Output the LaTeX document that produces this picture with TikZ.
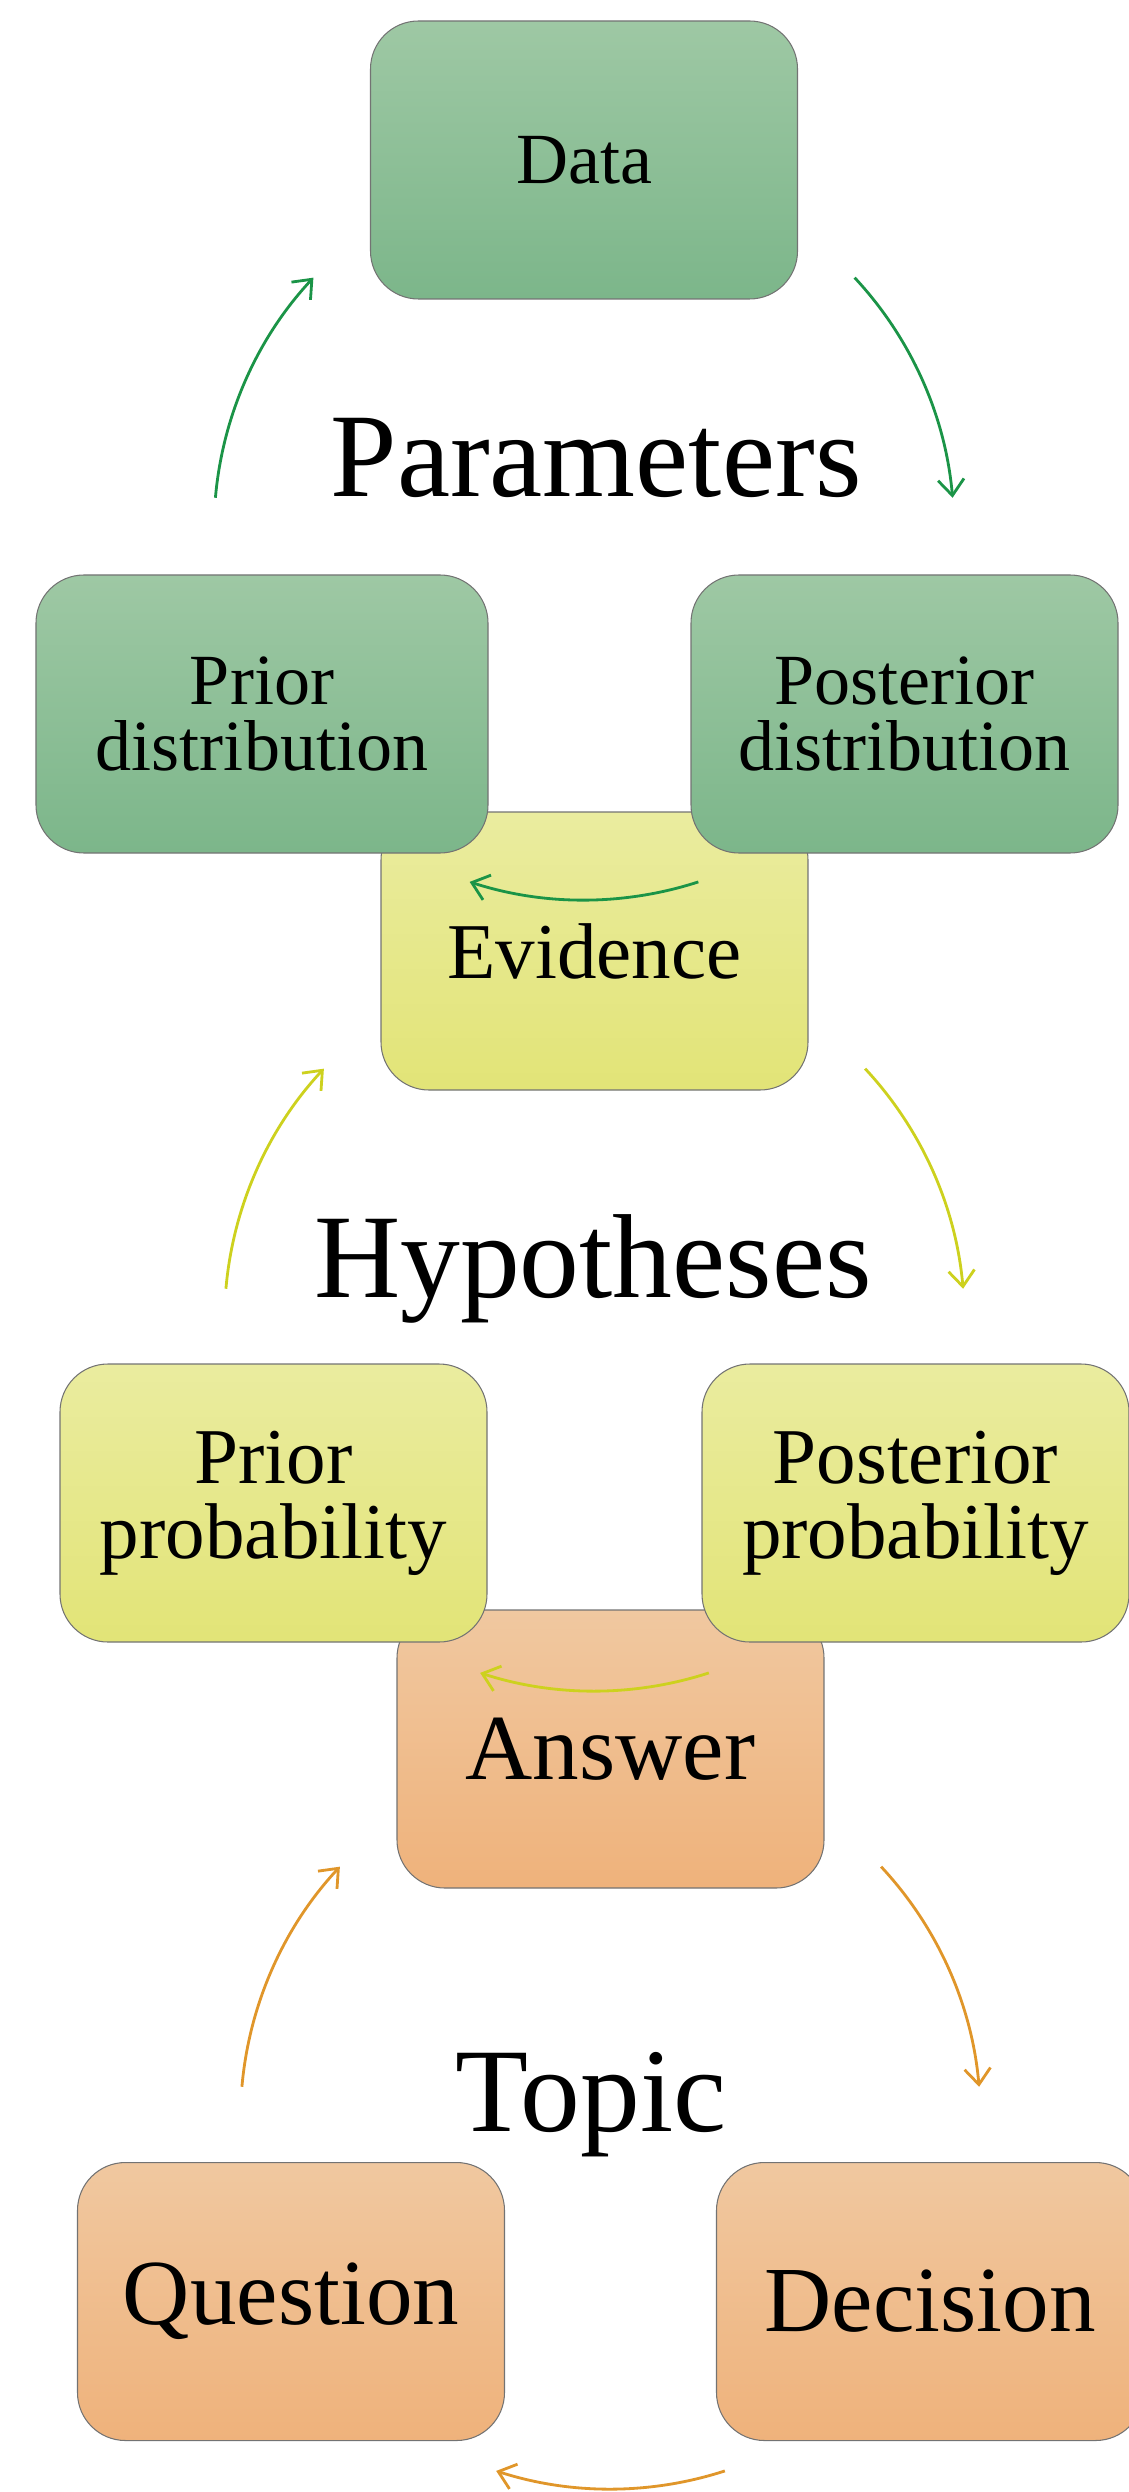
\documentclass[tikz,border=0pt]{standalone}
\usepackage{fontspec}
\setmainfont{Liberation Serif}
\usetikzlibrary{positioning,arrows.meta}

\definecolor{grntop}{HTML}{9EC8A4}
\definecolor{grnbot}{HTML}{7CB68A}
\definecolor{yeltop}{HTML}{EAEC9F}
\definecolor{yelbot}{HTML}{E2E477}
\definecolor{orgtop}{HTML}{F0C8A0}
\definecolor{orgbot}{HTML}{EFB27B}
\definecolor{grnline}{HTML}{1B9447}
\definecolor{yelline}{HTML}{CDD11E}
\definecolor{orgline}{HTML}{E0962A}

\tikzset{
  box/.style={draw=black!55,line width=0.3pt,rounded corners=0.48cm,
    minimum width=4.27cm,minimum height=2.78cm,align=center,inner sep=0pt},
  gbox/.style={box,top color=grntop,bottom color=grnbot,font=\fontsize{20.5}{18.8}\selectfont},
  ybox/.style={box,top color=yeltop,bottom color=yelbot,font=\fontsize{22.5}{21.3}\selectfont},
  obox/.style={box,top color=orgtop,bottom color=orgbot,font=\fontsize{26.5}{28}\selectfont},
  title/.style={anchor=base,font=\fontsize{34}{40}\selectfont},
  garc/.style={->,draw=grnline,line width=0.8pt},
  yarc/.style={->,draw=yelline,line width=0.8pt},
  oarc/.style={->,draw=orgline,line width=0.8pt}
}

\begin{document}
\begin{tikzpicture}[on grid,>={Straight Barb[length=1.6mm,width=2.6mm]}]
  \useasboundingbox (0,0) rectangle (11.28,-24.92);

  % lowest cycle first, the upper boxes lie over it
  \node[obox] (answer) at (6.105,-17.49) {Answer};
  \node[obox] (question) [below left=5.525cm and 3.195cm of answer] {Question};
  \node[obox] (decision) [below right=5.525cm and 3.195cm of answer] {Decision};
  \coordinate[below=3.7cm of answer] (c3);
  \node[title] (topic) at (5.91,-21.31) {Topic};
  \path (c3) ++(175:3.7) coordinate (o1) (c3) ++(43:3.7) coordinate (o2)
        (c3) ++(-72:3.7) coordinate (o3);
  \draw[oarc] (o1) arc[start angle=175,end angle=137,radius=3.7];
  \draw[oarc] (o2) arc[start angle=43,end angle=5,radius=3.7];
  \draw[oarc] (o3) arc[start angle=-72,end angle=-108,radius=3.7];

  \node[ybox] (evid) at (5.945,-9.51) {Evidence};
  \node[ybox] (priorp) [below left=5.52cm and 3.21cm of evid] {Prior\\probability};
  \node[ybox] (postp) [below right=5.52cm and 3.21cm of evid] {Posterior\\probability};
  \coordinate[below=3.7cm of evid] (c2);
  \node[title] (hypo) at (5.93,-12.97) {Hypotheses};
  \path (c2) ++(175:3.7) coordinate (y1) (c2) ++(43:3.7) coordinate (y2)
        (c2) ++(-72:3.7) coordinate (y3);
  \draw[yarc] (y1) arc[start angle=175,end angle=137,radius=3.7];
  \draw[yarc] (y2) arc[start angle=43,end angle=5,radius=3.7];
  \draw[yarc] (y3) arc[start angle=-72,end angle=-108,radius=3.7];

  \node[gbox] (data) at (5.84,-1.60) {Data};
  \node[gbox,minimum width=4.52cm] (priord) [below left=5.54cm and 3.22cm of data] {Prior\\distribution};
  \node[gbox] (postd) [below right=5.54cm and 3.205cm of data] {Posterior\\distribution};
  \coordinate[below=3.7cm of data] (c1);
  \node[title] (params) at (5.96,-4.97) {Parameters};
  \path (c1) ++(175:3.7) coordinate (g1) (c1) ++(43:3.7) coordinate (g2)
        (c1) ++(-72:3.7) coordinate (g3);
  \draw[garc] (g1) arc[start angle=175,end angle=137,radius=3.7];
  \draw[garc] (g2) arc[start angle=43,end angle=5,radius=3.7];
  \draw[garc] (g3) arc[start angle=-72,end angle=-108,radius=3.7];
\end{tikzpicture}
\end{document}
